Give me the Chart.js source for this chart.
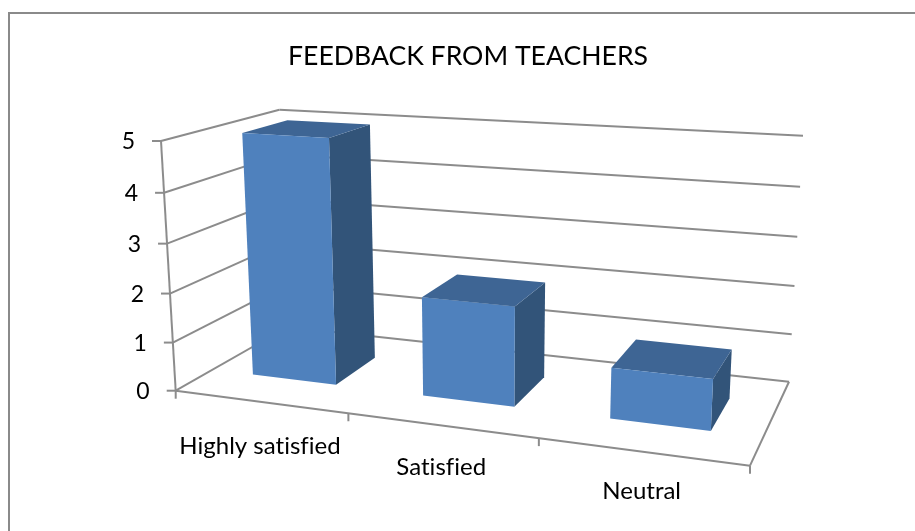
<!DOCTYPE html>
<html>
<head>
<meta charset="utf-8">
<title>Feedback from teachers</title>
<script src="https://cdn.jsdelivr.net/npm/chart.js@4"></script>
<style>
  html, body { margin: 0; background: #fff; }
  canvas { display: block; }
</style>
</head>
<body>
<canvas id="grafico" width="915" height="531"></canvas>
<script>
const categorias = ['Highly satisfied', 'Satisfied', 'Neutral'];
const valores = [5, 2, 1];
const titulo = 'FEEDBACK FROM TEACHERS';

// esquinas de la caja 3D en pantalla y su perspectiva
const origen = [175.7, 390.7];
const finAncho = [750, 465.7];
const finAlto = [161, 141];
const finFondo = [287.5, 327];
const persp = { u: -0.14, v: -0.045, w: 0.156 };
const fondoBarra = [0.3, 0.7];

const colorLinea = '#8c8c8c';
const fuente = '"Lato", "Open Sans", sans-serif';

function proyectar(u, v, w) {
  const d = 1 + persp.u * u + persp.v * v + persp.w * w;
  const eje = function (i) {
    return (1 + persp.u) * finAncho[i] * u + (1 + persp.v) * finAlto[i] * v +
      (1 + persp.w) * finFondo[i] * w + origen[i] * (1 - u - v - w);
  };
  return [eje(0) / d, eje(1) / d];
}

function poligono(ctx, puntos, color) {
  ctx.beginPath();
  puntos.forEach(function (p, i) {
    if (i === 0) {
      ctx.moveTo(p[0], p[1]);
    } else {
      ctx.lineTo(p[0], p[1]);
    }
  });
  ctx.closePath();
  ctx.fillStyle = color;
  ctx.fill();
}

function linea(ctx, a, b) {
  ctx.beginPath();
  ctx.moveTo(a[0], a[1]);
  ctx.lineTo(b[0], b[1]);
  ctx.stroke();
}

const caja3d = {
  id: 'caja3d',
  beforeDatasetsDraw: function (chart) {
    const ctx = chart.ctx;
    const ejeX = chart.scales.x;
    const ejeY = chart.scales.y;

    ctx.save();
    // marco de la imagen, solo arriba e izquierda
    ctx.strokeStyle = '#8a8a8a';
    ctx.lineWidth = 2;
    ctx.beginPath();
    ctx.moveTo(9, 531);
    ctx.lineTo(9, 13);
    ctx.lineTo(915, 13);
    ctx.stroke();

    ctx.strokeStyle = colorLinea;
    ctx.lineWidth = 2;
    ejeY.ticks.forEach(function (t) {
      const v = (ejeY.bottom - ejeY.getPixelForValue(t.value)) / ejeY.height;
      const frente = proyectar(0, v, 0);
      const atras = proyectar(0, v, 1);
      linea(ctx, frente, atras);
      linea(ctx, atras, proyectar(1, v, 1));
      linea(ctx, [frente[0] - 9, frente[1]], frente);

      ctx.fillStyle = '#000';
      ctx.font = '23px ' + fuente;
      ctx.textAlign = 'right';
      ctx.textBaseline = 'middle';
      ctx.fillText(t.label, frente[0] - 26, frente[1] + 1);
    });
    linea(ctx, proyectar(0, 0, 0), proyectar(0, 1, 0));
    linea(ctx, proyectar(0, 0, 0), proyectar(1, 0, 0));
    linea(ctx, proyectar(1, 0, 0), proyectar(1, 0, 1));

    const paso = ejeX.width / categorias.length;
    for (let i = 0; i <= categorias.length; i++) {
      const p = proyectar(i * paso / ejeX.width, 0, 0);
      linea(ctx, p, [p[0], p[1] + 8]);
    }

    ctx.fillStyle = '#000';
    ctx.font = '24px ' + fuente;
    ctx.letterSpacing = '0.01px'; // sin la ligadura fi
    ctx.textAlign = 'center';
    ctx.textBaseline = 'middle';
    categorias.forEach(function (c, i) {
      const u = (ejeX.getPixelForValue(i) - ejeX.left) / ejeX.width;
      const p = proyectar(u, 0, 0);
      ctx.fillText(c, p[0], p[1] + 45.5 - 7 * u);
    });
    ctx.restore();
  },
  beforeDatasetDraw: function (chart, args) {
    const ctx = chart.ctx;
    const ejeX = chart.scales.x;
    const ejeY = chart.scales.y;
    const w0 = fondoBarra[0];
    const w1 = fondoBarra[1];

    args.meta.data.forEach(function (barra) {
      const u0 = (barra.x - barra.width / 2 - ejeX.left) / ejeX.width;
      const u1 = (barra.x + barra.width / 2 - ejeX.left) / ejeX.width;
      const v = (ejeY.bottom - barra.y) / ejeY.height;

      poligono(ctx, [proyectar(u1, 0, w0), proyectar(u1, v, w0), proyectar(u1, v, w1), proyectar(u1, 0, w1)], '#325479');
      poligono(ctx, [proyectar(u0, v, w0), proyectar(u1, v, w0), proyectar(u1, v, w1), proyectar(u0, v, w1)], '#3e6594');
      poligono(ctx, [proyectar(u0, 0, w0), proyectar(u0, v, w0), proyectar(u1, v, w0), proyectar(u1, 0, w0)], '#4f81bd');
    });
    return false;
  }
};

new Chart(document.getElementById('grafico'), {
  type: 'bar',
  data: {
    labels: categorias,
    datasets: [{
      data: valores,
      backgroundColor: '#4f81bd',
      barPercentage: 0.5,
      categoryPercentage: 1
    }]
  },
  options: {
    responsive: false,
    animation: false,
    events: [],
    layout: { padding: { left: 176, right: 155, top: 0, bottom: 140 } },
    scales: {
      x: { display: false },
      y: { display: false, min: 0, max: 5, ticks: { stepSize: 1 } }
    },
    plugins: {
      legend: { display: false },
      tooltip: { enabled: false },
      title: {
        display: true,
        text: titulo,
        fullSize: false,
        color: '#000',
        font: { family: fuente, size: 26.6, weight: 'normal', lineHeight: 1.2 },
        padding: { top: 40, bottom: 69 }
      }
    }
  },
  plugins: [caja3d]
});
</script>
</body>
</html>
